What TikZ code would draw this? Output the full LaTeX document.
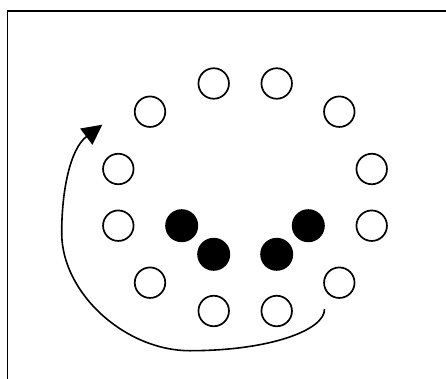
\documentclass[tikz,border=0pt]{standalone}
\usetikzlibrary{arrows.meta}
\begin{document}
\begin{tikzpicture}[x=1pt,y=-1pt,
  opendot/.style={circle,draw=black,line width=1.7pt,minimum size=30.5pt,inner sep=0pt},
  fulldot/.style={circle,fill=black,minimum size=33pt,inner sep=0pt},
  flow/.style={line width=1.6pt,-{Triangle[length=20pt,width=20pt]}}]
\useasboundingbox (0,0) rectangle (446,379);
\draw[line width=1.6pt] (7.5,420) -- (7.5,11) -- (470,11);
% open circles
\node[opendot] (o1) at (213.7,83.5) {};
\node[opendot] (o2) at (276.7,83.5) {};
\node[opendot] (o3) at (150,111.7) {};
\node[opendot] (o4) at (339.3,111.7) {};
\node[opendot] (o5) at (118.3,169) {};
\node[opendot] (o6) at (371.7,169) {};
\node[opendot] (o7) at (118.3,225.7) {};
\node[opendot] (o8) at (371.7,225.7) {};
\node[opendot] (o9) at (150,282.7) {};
\node[opendot] (o10) at (339.3,282.7) {};
\node[opendot] (o11) at (213.7,311) {};
\node[opendot] (o12) at (276.7,311) {};
% filled circles
\node[fulldot] (f1) at (181.7,225.7) {};
\node[fulldot] (f2) at (213.7,254.3) {};
\node[fulldot] (f3) at (276.7,254.3) {};
\node[fulldot] (f4) at (308.3,225.7) {};
% arrow
\coordinate (s) at (324.5,309);
\coordinate (b) at (190,350.7);
\coordinate (l) at (61.7,233);
\coordinate (t) at (102.3,124.7);
\draw[flow] (s) .. controls (325,330) and (270,350.7) .. (b)
  .. controls (125,350.7) and (61.7,293) .. (l)
  .. controls (61.7,190) and (70.3,148.7) .. (t);
\end{tikzpicture}
\end{document}
